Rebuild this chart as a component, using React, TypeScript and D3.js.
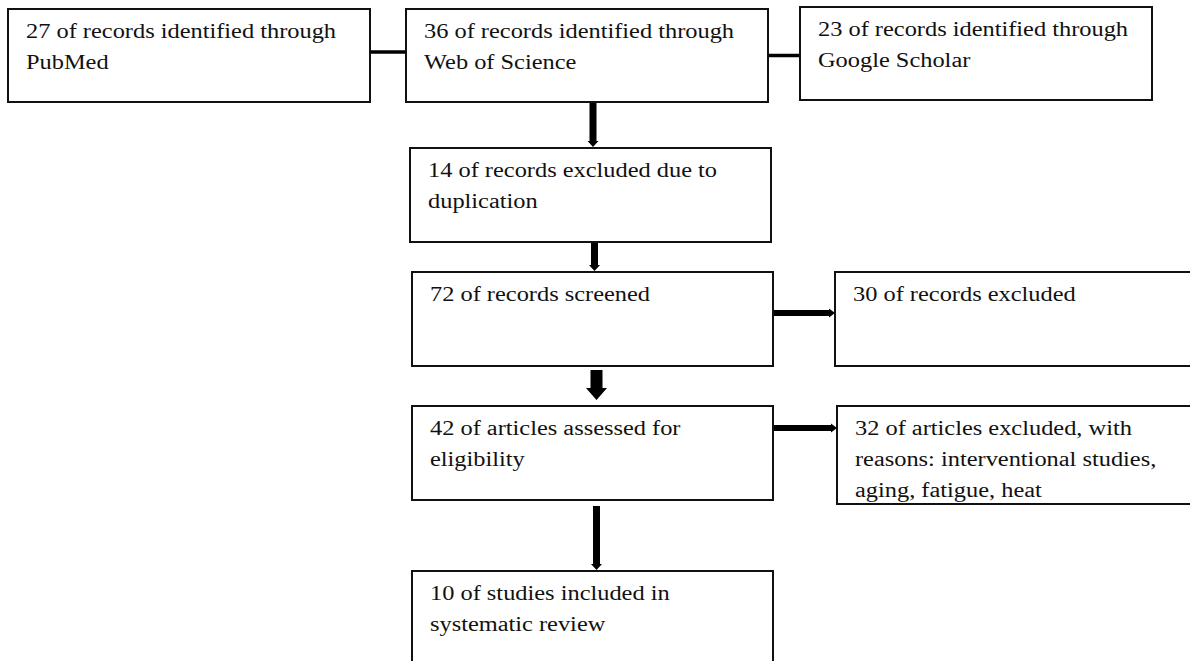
import React from "react";
import * as d3 from "d3";

// node labels (one entry per line of text)
const pubmed = ["27 of records identified through", "PubMed"];
const webOfScience = ["36 of records identified through", "Web of Science"];
const scholar = ["23 of records identified through", "Google Scholar"];
const duplicates = ["14 of records excluded due to", "duplication"];
const screened = ["72 of records screened"];
const excludedRecords = ["30 of records excluded"];
const assessed = ["42 of articles assessed for", "eligibility"];
const excludedArticles = [
  "32 of articles excluded, with",
  "reasons: interventional studies,",
  "aging, fatigue, heat",
];
const included = ["10 of studies included in", "systematic review"];

const nodeIds = ["b1", "b2", "b3", "b4", "b5", "b6", "b7", "b8", "b9"];
const nodeLabels = [pubmed, webOfScience, scholar, duplicates, screened, assessed, included, excludedRecords, excludedArticles];

// edges: [from, to, kind]
const edges: [string, string, string][] = [
  ["b1", "b2", "line"],
  ["b2", "b3", "line"],
  ["b2", "b4", "down"],
  ["b4", "b5", "down"],
  ["b5", "b6", "downBig"],
  ["b6", "b7", "down"],
  ["b5", "b8", "right"],
  ["b6", "b9", "right"],
];

// layout (pixels)
const layout: Record<string, { x: number; y: number; w: number; h: number }> = {
  b1: { x: 8, y: 9, w: 362, h: 93 },
  b2: { x: 406, y: 9, w: 362, h: 93 },
  b3: { x: 800, y: 7, w: 352, h: 93 },
  b4: { x: 410, y: 148, w: 361, h: 94 },
  b5: { x: 412, y: 272, w: 361, h: 94 },
  b6: { x: 412, y: 406, w: 361, h: 94 },
  b7: { x: 412, y: 571, w: 361, h: 130 },
  b8: { x: 835, y: 272, w: 420, h: 94 },
  b9: { x: 837, y: 406, w: 420, h: 98 },
};

const W = 1190, H = 661;
const FONT = 20.5;
const SX = 1.19;
const LINE_H = 31;

function arrowPath(kind: string, a: any, b: any, offset: number): string {
  const path = d3.path();
  if (kind === "line") {
    const y = a.y + a.h / 2 + offset;
    path.moveTo(a.x + a.w, y);
    path.lineTo(b.x, y);
    return path.toString();
  }
  if (kind === "right") {
    const y = a.y + 41 + offset;
    const x0 = a.x + a.w, x1 = b.x;
    const s = 3, hw = 4.5, hl = 6;
    path.moveTo(x0, y - s);
    path.lineTo(x1 - hl, y - s);
    path.lineTo(x1 - hl, y - hw);
    path.lineTo(x1, y);
    path.lineTo(x1 - hl, y + hw);
    path.lineTo(x1 - hl, y + s);
    path.lineTo(x0, y + s);
    path.closePath();
    return path.toString();
  }
  const big = kind === "downBig";
  const x = a.x + a.w / 2 + offset;
  const y0 = a.y + a.h + (big ? 4 : a === layout.b6 ? 6 : 0);
  const y1 = b.y - (big ? 6 : 1);
  const s = big ? 6 : 3.5, hw = big ? 10.5 : 5.5, hl = big ? 12 : 6;
  path.moveTo(x - s, y0);
  path.lineTo(x - s, y1 - hl);
  path.lineTo(x - hw, y1 - hl);
  path.lineTo(x, y1);
  path.lineTo(x + hw, y1 - hl);
  path.lineTo(x + s, y1 - hl);
  path.lineTo(x + s, y0);
  path.closePath();
  return path.toString();
}

const edgeOffsets: Record<string, number> = {
  "b1-b2": -3.5, "b2-b3": 0, "b2-b4": 6, "b4-b5": 4, "b5-b6": 4, "b6-b7": 4, "b5-b8": 0, "b6-b9": -19,
};

export default function App() {
  return (
    <svg width={W} height={H} style={{ position: "fixed", left: 0, top: 0, background: "#fff" }}>
      {edges.map(([f, t, kind]) => {
        const d = arrowPath(kind, layout[f], layout[t], edgeOffsets[`${f}-${t}`] || 0);
        return kind === "line" ? (
          <path key={f + t} d={d} stroke="#000" strokeWidth={3.5} fill="none" />
        ) : (
          <path key={f + t} d={d} fill="#000" />
        );
      })}
      {nodeIds.map((id, i) => {
        const b = layout[id];
        return (
          <g key={id}>
            <rect x={b.x} y={b.y} width={b.w} height={b.h} fill="none" stroke="#111" strokeWidth={2} />
            {nodeLabels[i].map((ln, j) => (
              <text
                key={j}
                transform={`translate(${b.x + 18},${b.y + 29 + j * LINE_H}) scale(${SX},1)`}
                fontFamily="'Liberation Serif', 'Times New Roman', serif"
                fontSize={FONT}
                fill="#111"
              >
                {ln}
              </text>
            ))}
          </g>
        );
      })}
    </svg>
  );
}
